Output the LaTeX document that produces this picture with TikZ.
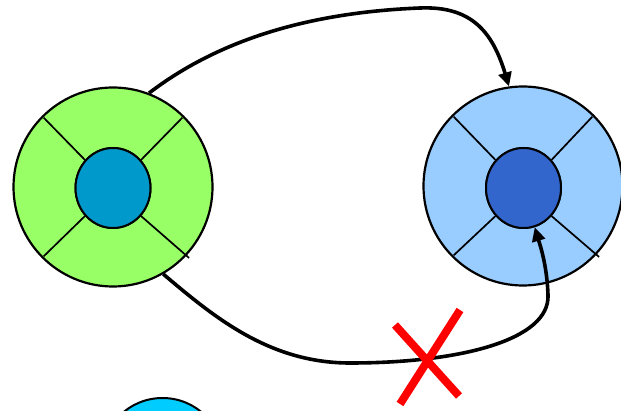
\documentclass[tikz,border=0pt]{standalone}
\usetikzlibrary{arrows.meta,shapes.geometric,calc}

\definecolor{ringgreen}{HTML}{99FF66}
\definecolor{coreteal}{HTML}{0099CC}
\definecolor{ringblue}{HTML}{99CCFF}
\definecolor{coreblue}{HTML}{3366CC}
\definecolor{orbcyan}{HTML}{00CCFF}

\tikzset{
  ring/.style={circle, draw=black, line width=2.2pt, minimum size=199pt, inner sep=0pt},
  core/.style={ellipse, draw=black, line width=2pt, minimum width=75pt, minimum height=80pt, inner sep=0pt},
  spoke/.style={draw=black, line width=1.7pt},
  link/.style={draw=black, line width=3.6pt, -{Triangle[length=14pt,width=13pt]}},
  cross/.style={draw=red, line width=8pt},
}

\begin{document}
\begin{tikzpicture}[x=1pt,y=1pt]
  \useasboundingbox (0,0) rectangle (621,-411);

  % partly visible orb at the bottom edge
  \begin{scope}
    \clip (0,0) rectangle (621,-411);
    \node[circle, draw=black, line width=2pt, fill=orbcyan, minimum size=122pt, inner sep=0pt] (O) at (162.5,-459) {};
  \end{scope}

  % left wheel
  \node[ring, fill=ringgreen] (L) at (113,-187) {};
  \node[core, fill=coreteal] (Lc) at (113,-188) {};
  \path[spoke] (Lc.135) -- ($(L.center)+(135:98)$);
  \path[spoke] (Lc.45)  -- ($(L.center)+(45:98)$);
  \path[spoke] (Lc.-135) -- ($(L.center)+(-135:98)$);
  \path[spoke] (Lc.-45) -- ($(L.center)+(-43:104)$);
  \node[core, fill=coreteal] at (Lc) {};

  % right wheel
  \node[ring, fill=ringblue] (R) at (523,-186) {};
  \node[core, fill=coreblue] (Rc) at (523.5,-188) {};
  \path[spoke] (Rc.135) -- ($(R.center)+(135:98)$);
  \path[spoke] (Rc.45)  -- ($(R.center)+(45:98)$);
  \path[spoke] (Rc.-135) -- ($(R.center)+(-135:98)$);
  \path[spoke] (Rc.-45) -- ($(R.center)+(-43:104)$);
  \node[core, fill=coreblue] at (Rc) {};

  % upper link: ring to ring
  \coordinate (top) at (420,-8);
  \path[link] (L.69) .. controls (225,-35) and (320,-12) .. (top)
                     .. controls (470,-6) and (492,-30) .. (R.98);

  % lower link: ring to core, crossed out
  \coordinate (low) at (350,-363);
  \coordinate (rise) at (548,-295);
  \path[link] (L.-60) .. controls (215,-318) and (270,-363) .. (low)
                      .. controls (460,-363) and (550,-340) .. (rise)
                      .. controls (547,-265) and (540,-245) .. (Rc.-74);

  % red cross over the lower link
  \coordinate (xa) at (395,-325);
  \coordinate (xb) at (459,-396);
  \coordinate (xc) at (460,-310);
  \coordinate (xd) at (400,-404);
  \path[cross] (xa) -- (xb);
  \path[cross] (xc) -- (xd);
\end{tikzpicture}
\end{document}
